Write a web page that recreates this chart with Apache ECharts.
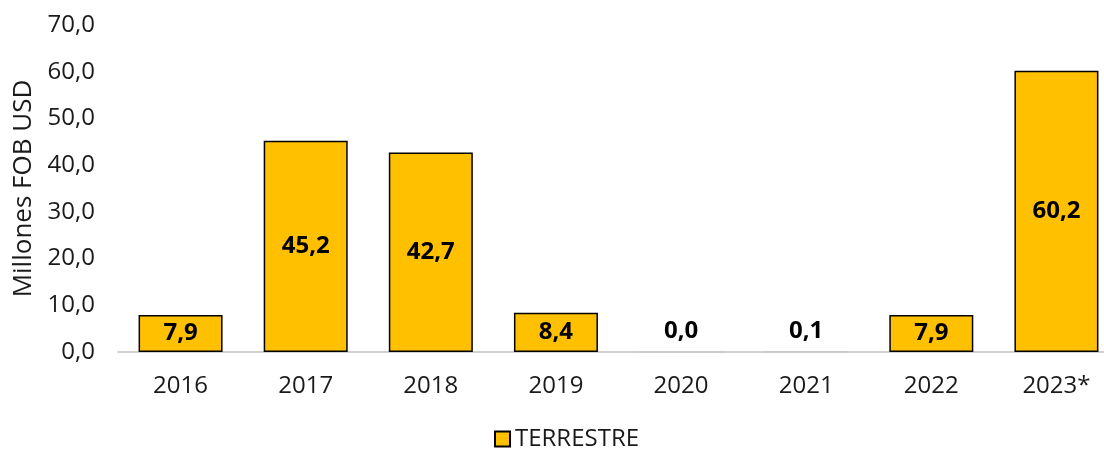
<!DOCTYPE html>
<html>
<head>
<meta charset="utf-8">
<script src="https://cdn.jsdelivr.net/npm/echarts@6/dist/echarts.min.js"></script>
<style>
  html, body { margin: 0; padding: 0; background: #fff; }
  #main { width: 1104px; height: 454px; }
</style>
</head>
<body>
<div id="main"></div>
<script>
const years = ['2016', '2017', '2018', '2019', '2020', '2021', '2022', '2023*'];
const terrestre = [7.9, 45.2, 42.7, 8.4, 0.0, 0.1, 7.9, 60.2];
const yTicks = [0, 10, 20, 30, 40, 50, 60, 70];

const fmt = (v) => v.toFixed(1).replace('.', ',');

let myChart = echarts.init(document.getElementById('main'));
myChart.setOption({
  textStyle: { fontFamily: 'Open Sans' },
  animation: false,
  legend: {
    bottom: -2,
    left: 489,
    icon: 'rect',
    itemWidth: 15,
    itemHeight: 15,
    itemGap: 4,
    textStyle: { fontSize: 24, color: '#1a1a1a', fontFamily: 'Open Sans' }
  },
  grid: {
    left: 118,
    right: -15,
    top: 25,
    bottom: 102,
    outerBoundsMode: 'none'
  },
  xAxis: {
    type: 'category',
    data: years,
    axisLine: { lineStyle: { color: '#d0d0d0', width: 2 } },
    axisTick: { show: false },
    axisLabel: { fontSize: 24, color: '#1a1a1a', margin: 22 }
  },
  yAxis: {
    type: 'value',
    min: yTicks[0],
    max: yTicks[yTicks.length - 1],
    interval: 10,
    name: 'Millones FOB USD',
    nameLocation: 'middle',
    nameGap: 75,
    nameTextStyle: { fontSize: 26, color: '#1a1a1a' },
    splitLine: { show: false },
    axisLine: { show: false },
    axisLabel: {
      fontSize: 24,
      color: '#1a1a1a',
      margin: 23,
      formatter: (v) => fmt(v)
    }
  },
  series: [
    {
      name: 'TERRESTRE',
      type: 'bar',
      barWidth: 84,
      itemStyle: { color: '#ffc000', borderColor: '#000', borderWidth: 1.5 },
      label: {
        show: true,
        position: 'inside',
        fontSize: 24,
        fontWeight: 'bold',
        color: '#000',
        formatter: (p) => fmt(p.value)
      },
      data: terrestre.map((v) => v < 1
        ? { value: v, itemStyle: { borderColor: '#c8c8c8' }, label: { position: 'top', distance: 8 } }
        : v)
    }
  ]
});

window.onresize = function () {
  myChart.resize();
}
</script>
</body>
</html>
